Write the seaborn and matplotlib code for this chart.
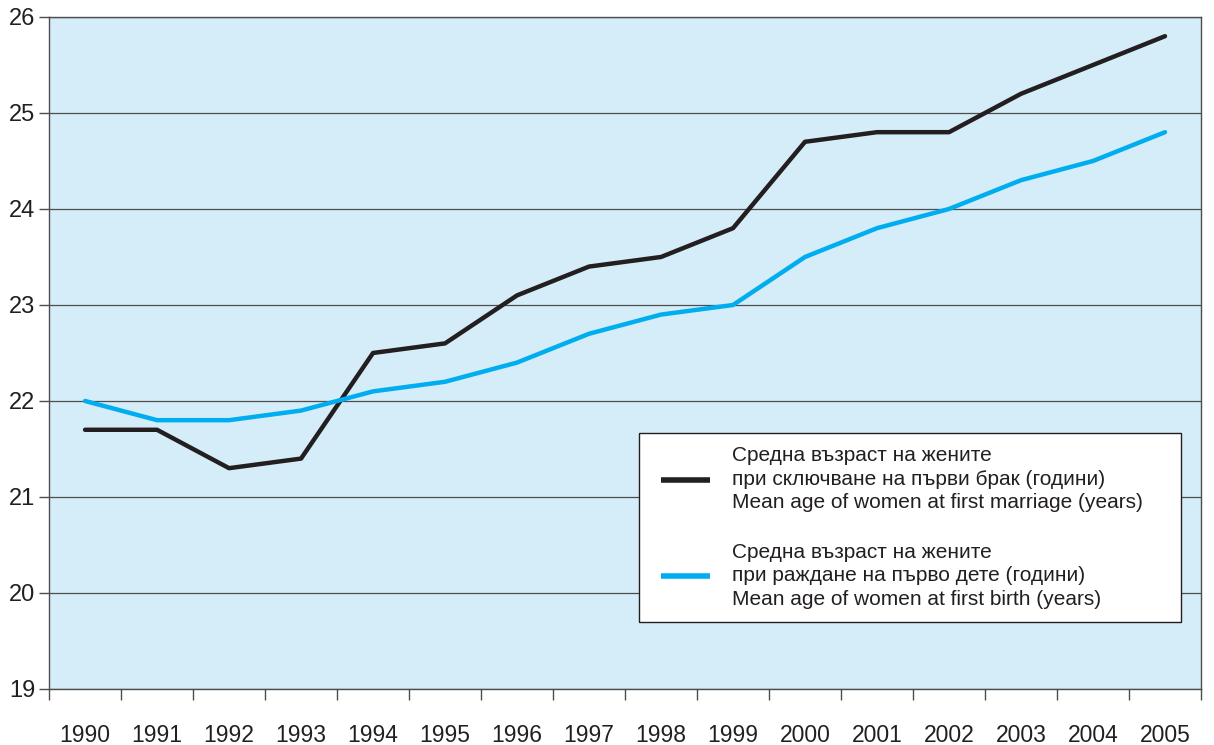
import pandas as pd
import matplotlib.pyplot as plt
import seaborn as sns
from matplotlib.ticker import FixedLocator
from matplotlib.legend_handler import HandlerLine2D

sns.set_style('white')
plt.rcParams['font.family'] = ['Liberation Sans', 'DejaVu Sans']

years = [str(y) for y in range(1990, 2006)]
marriage_age = [21.7, 21.7, 21.3, 21.4, 22.5, 22.6, 23.1, 23.4, 23.5, 23.8,
                24.7, 24.8, 24.8, 25.2, 25.5, 25.8]
birth_age = [22.0, 21.8, 21.8, 21.9, 22.1, 22.2, 22.4, 22.7, 22.9, 23.0,
             23.5, 23.8, 24.0, 24.3, 24.5, 24.8]

label_marriage = ('Средна възраст на жените\n'
                  'при сключване на първи брак (години)\n'
                  'Mean age of women at first marriage (years)')
label_birth = ('Средна възраст на жените\n'
               'при раждане на първо дете (години)\n'
               'Mean age of women at first birth (years)')

df = pd.DataFrame({'year': years, 'marriage': marriage_age, 'birth': birth_age})

fig = plt.figure(figsize=(12.14, 7.45), dpi=100)
ax = fig.add_axes([0.0404, 0.0752, 0.9489, 0.902])
ax.set_facecolor('#d5ecf9')

sns.lineplot(data=df, x='year', y='marriage', ax=ax, color='#231f20',
             linewidth=3.2, label=label_marriage, solid_capstyle='round')
sns.lineplot(data=df, x='year', y='birth', ax=ax, color='#00aeef',
             linewidth=3.2, label=label_birth, solid_capstyle='round')

ax.set_xlim(-0.5, len(years) - 0.5)
ax.set_ylim(19, 26)
ax.set_yticks(range(19, 27))
ax.yaxis.grid(True, color='#4d4d4d', linewidth=0.9)
ax.set_axisbelow(True)

# tick marks sit between categories, labels at centers
ax.xaxis.set_major_locator(FixedLocator([i - 0.5 for i in range(len(years) + 1)]))
ax.set_xticklabels([])
ax.xaxis.set_minor_locator(FixedLocator(range(len(years))))
ax.set_xticklabels(years, minor=True)
ax.tick_params(axis='x', which='major', direction='out', length=8, width=1,
               color='#4d4d4d', bottom=True)
ax.tick_params(axis='x', which='minor', length=0, pad=25, labelsize=16.5,
               labelcolor='#231f20')
ax.tick_params(axis='y', direction='out', length=7, width=1, color='#4d4d4d',
               left=True, labelsize=17, pad=3, labelcolor='#231f20')

for s in ax.spines.values():
    s.set_color('#4d4d4d')
    s.set_linewidth(1)

ax.set_xlabel('')
ax.set_ylabel('')

leg = ax.legend(loc='upper left', bbox_to_anchor=(0.512, 0.1027, 0.4705, 0.2783),
                mode='expand', fontsize=15, frameon=True, fancybox=False,
                edgecolor='#231f20', framealpha=1, facecolor='white',
                handlelength=2.77, handletextpad=1.05, labelspacing=1.45,
                borderpad=0.65, borderaxespad=0,
                handler_map={plt.Line2D: HandlerLine2D(xpad=0.4)})
for line in leg.get_lines():
    line.set_linewidth(4)
    line.set_solid_capstyle('butt')
for t in leg.get_texts():
    t.set_color('#231f20')
    t.set_linespacing(1.3)
leg.get_frame().set_linewidth(1)

fig.savefig('out.png', dpi=100)
